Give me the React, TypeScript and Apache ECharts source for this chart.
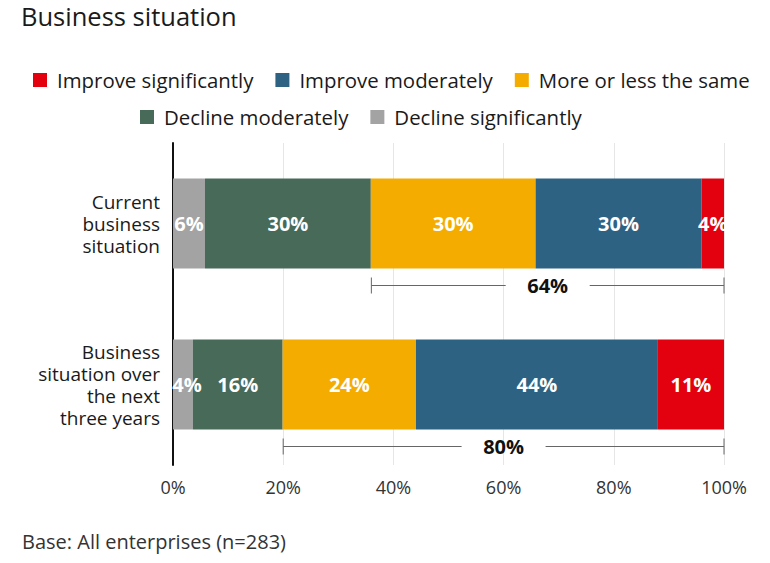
import React, { useEffect, useRef } from "react";
import * as echarts from "echarts";

const categories = ["Current\nbusiness\nsituation", "Business\nsituation over\nthe next\nthree years"];
const seriesNames = ["Decline significantly", "Decline moderately", "More or less the same", "Improve moderately", "Improve significantly"];
const colors = ["#a3a3a3", "#476a59", "#f4ac00", "#2d6283", "#e3000f"];
const declineSig = [5.8, 3.6];
const declineMod = [30.1, 16.3];
const same = [29.9, 24.2];
const improveMod = [30.1, 43.9];
const improveSig = [4.1, 12.0];
const labelsText = [
  ["6%", "4%"],
  ["30%", "16%"],
  ["30%", "24%"],
  ["30%", "44%"],
  ["4%", "11%"],
];
const brackets = [
  [36, 100, 0, "64%"],
  [20, 100, 1, "80%"],
];
const xTicks = [0, 20, 40, 60, 80, 100];

const FONT = "'Open Sans', sans-serif";

export default function App() {
  const ref = useRef<HTMLDivElement>(null);
  useEffect(() => {
    document.body.style.margin = "0";
    const chart = echarts.init(ref.current!, null, { renderer: "svg" });
    const values = [declineSig, declineMod, same, improveMod, improveSig];
    const barSeries = seriesNames.map((name, si) => ({
      name,
      type: "bar",
      stack: "total",
      barWidth: 90,
      itemStyle: { color: colors[si] },
      label: {
        show: true,
        position: "inside",
        color: "#fff",
        fontFamily: FONT,
        fontWeight: "bold",
        fontSize: 20,
        formatter: (p: any) => labelsText[si][p.dataIndex],
      },
      data: values[si].map((v, i) =>
        si === 0 && i === 1 ? { value: v, label: { offset: [4, 0] } } : v
      ),
    }));
    const legendText = { fontFamily: FONT, fontSize: 20.4, color: "#1a1a1a", padding: [0, 0, 0, 5] };
    chart.setOption({
      animation: false,
      textStyle: { fontFamily: FONT },
      title: {
        text: "Business situation",
        left: 21,
        top: 3,
        padding: 0,
        textStyle: { fontFamily: FONT, fontSize: 25.5, fontWeight: "normal", color: "#1a1a1a" },
      },
      graphic: [
        {
          type: "text",
          left: 22,
          top: 531,
          style: { text: "Base: All enterprises (n=283)", font: `20px ${FONT}`, fill: "#333" },
        },
      ],
      legend: [
        {
          data: ["Improve significantly", "Improve moderately", "More or less the same"],
          top: 70,
          left: 33,
          padding: 0,
          itemWidth: 14,
          itemHeight: 14,
          itemGap: 22,
          icon: "rect",
          textStyle: legendText,
        },
        {
          data: ["Decline moderately", "Decline significantly"],
          top: 107,
          left: 140,
          padding: 0,
          itemWidth: 14,
          itemHeight: 14,
          itemGap: 22,
          icon: "rect",
          textStyle: legendText,
        },
      ],
      grid: { left: 173, right: 46, top: 143, bottom: 98, containLabel: false },
      xAxis: {
        type: "value",
        min: 0,
        max: 100,
        interval: 20,
        axisLine: { show: false },
        axisTick: { show: false },
        splitLine: { show: true, lineStyle: { color: "#e6e6e6", width: 1 } },
        axisLabel: {
          formatter: (v: number) => (xTicks.includes(v) ? `${v}%` : ""),
          fontFamily: FONT,
          fontSize: 18,
          color: "#333",
          margin: 13,
        },
      },
      yAxis: {
        type: "category",
        inverse: true,
        data: categories,
        axisLine: { show: true, lineStyle: { color: "#111", width: 2 } },
        axisTick: { show: false },
        axisLabel: {
          fontFamily: FONT,
          fontSize: 19,
          color: "#1a1a1a",
          lineHeight: 22,
          align: "right",
          margin: 13,
        },
      },
      series: [
        ...barSeries,
        {
          type: "custom",
          name: "bracket",
          silent: true,
          z: 10,
          data: brackets,
          renderItem: (params: any, api: any) => {
            const s = api.coord([api.value(0), api.value(2)]);
            const e = api.coord([api.value(1), api.value(2)]);
            const y = s[1] + 62;
            const mid = (s[0] + e[0]) / 2;
            const text = brackets[params.dataIndex][3] as string;
            const gap = 42;
            const stroke = { stroke: "#666", lineWidth: 1 };
            return {
              type: "group",
              children: [
                { type: "line", shape: { x1: s[0], y1: y, x2: mid - gap, y2: y }, style: stroke },
                { type: "line", shape: { x1: mid + gap, y1: y, x2: e[0], y2: y }, style: stroke },
                { type: "line", shape: { x1: s[0], y1: y - 8, x2: s[0], y2: y + 8 }, style: stroke },
                { type: "line", shape: { x1: e[0], y1: y - 8, x2: e[0], y2: y + 8 }, style: stroke },
                {
                  type: "text",
                  x: mid,
                  y: y,
                  style: {
                    text,
                    x: 0,
                    y: 0,
                    align: "center",
                    verticalAlign: "middle",
                    font: `bold 20px ${FONT}`,
                    fill: "#111",
                  },
                },
              ],
            };
          },
        },
      ],
    });
    return () => chart.dispose();
  }, []);
  return <div ref={ref} style={{ width: 770, height: 563 }} />;
}
